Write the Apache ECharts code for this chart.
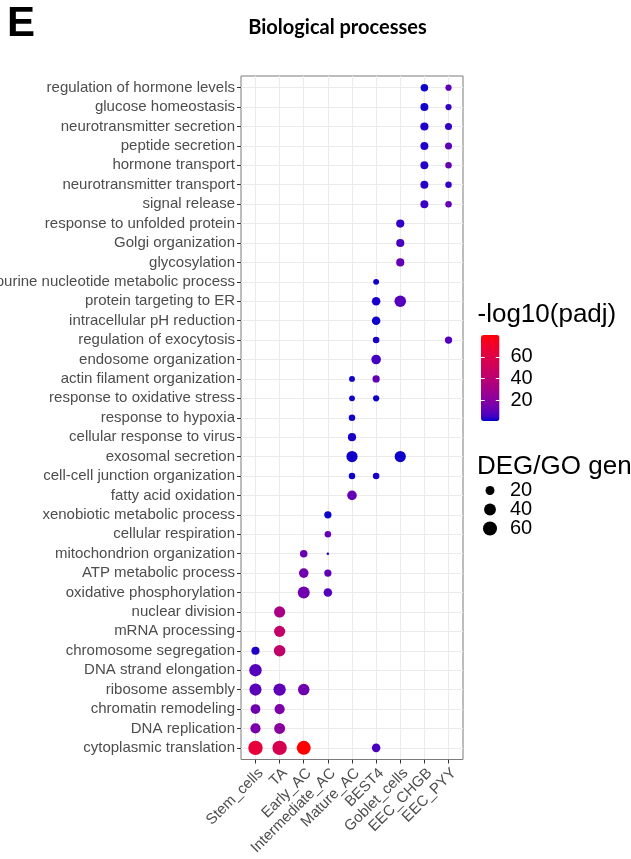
<!DOCTYPE html>
<html>
<head>
<meta charset="utf-8">
<script src="https://cdn.jsdelivr.net/npm/echarts@6/dist/echarts.min.js"></script>
<style>
  html, body { margin: 0; padding: 0; background: #fff; }
  #chart { width: 631px; height: 859px; }
</style>
</head>
<body>
<div id="chart"></div>
<script>
// Cell types along the x axis
const cellTypes = ['Stem_cells', 'TA', 'Early_AC', 'Intermediate_AC', 'Mature_AC',
                   'BEST4', 'Goblet_cells', 'EEC_CHGB', 'EEC_PYY'];

// GO terms, listed top to bottom
const terms = [
  'regulation of hormone levels', 'glucose homeostasis', 'neurotransmitter secretion',
  'peptide secretion', 'hormone transport', 'neurotransmitter transport', 'signal release',
  'response to unfolded protein', 'Golgi organization', 'glycosylation',
  'purine nucleotide metabolic process', 'protein targeting to ER', 'intracellular pH reduction',
  'regulation of exocytosis', 'endosome organization', 'actin filament organization',
  'response to oxidative stress', 'response to hypoxia', 'cellular response to virus',
  'exosomal secretion', 'cell-cell junction organization', 'fatty acid oxidation',
  'xenobiotic metabolic process', 'cellular respiration', 'mitochondrion organization',
  'ATP metabolic process', 'oxidative phosphorylation', 'nuclear division', 'mRNA processing',
  'chromosome segregation', 'DNA strand elongation', 'ribosome assembly',
  'chromatin remodeling', 'DNA replication', 'cytoplasmic translation'
];

// Enriched terms per cell type: [term, DEG/GO genes, -log10(padj)]
const Stem_cells = [
  ['chromosome segregation', 16, 3],
  ['DNA strand elongation', 45, 8],
  ['ribosome assembly', 42, 9],
  ['chromatin remodeling', 25, 13],
  ['DNA replication', 28, 16],
  ['cytoplasmic translation', 64, 65]
];
const TA = [
  ['nuclear division', 35, 33],
  ['mRNA processing', 35, 45],
  ['chromosome segregation', 38, 44],
  ['ribosome assembly', 44, 10],
  ['chromatin remodeling', 28, 17],
  ['DNA replication', 33, 21],
  ['cytoplasmic translation', 64, 55]
];
const Early_AC = [
  ['mitochondrion organization', 13, 12],
  ['ATP metabolic process', 24, 14],
  ['oxidative phosphorylation', 41, 14],
  ['ribosome assembly', 37, 13],
  ['cytoplasmic translation', 60, 80]
];
const Intermediate_AC = [
  ['xenobiotic metabolic process', 12, 2],
  ['cellular respiration', 9, 11],
  ['mitochondrion organization', 2, 2],
  ['ATP metabolic process', 12, 10],
  ['oxidative phosphorylation', 18, 8]
];
const Mature_AC = [
  ['actin filament organization', 7, 2],
  ['response to oxidative stress', 7, 2],
  ['response to hypoxia', 9, 2],
  ['cellular response to virus', 16, 2.5],
  ['exosomal secretion', 35, 2],
  ['cell-cell junction organization', 9, 2],
  ['fatty acid oxidation', 24, 11]
];
const BEST4 = [
  ['purine nucleotide metabolic process', 7, 2],
  ['protein targeting to ER', 18, 2.5],
  ['intracellular pH reduction', 18, 2],
  ['regulation of exocytosis', 9, 2.5],
  ['endosome organization', 24, 5.5],
  ['actin filament organization', 12, 10],
  ['response to oxidative stress', 8, 2],
  ['cell-cell junction organization', 9, 2.5],
  ['cytoplasmic translation', 18, 6.5]
];
const Goblet_cells = [
  ['response to unfolded protein', 16, 4],
  ['Golgi organization', 16, 6.5],
  ['glycosylation', 16, 11],
  ['protein targeting to ER', 38, 8],
  ['exosomal secretion', 35, 2]
];
const EEC_CHGB = [
  ['regulation of hormone levels', 13, 1.8],
  ['glucose homeostasis', 15, 2.2],
  ['neurotransmitter secretion', 16, 3],
  ['peptide secretion', 15, 3],
  ['hormone transport', 15, 3.4],
  ['neurotransmitter transport', 15, 3.4],
  ['signal release', 15, 4.6]
];
const EEC_PYY = [
  ['regulation of hormone levels', 8, 9.5],
  ['glucose homeostasis', 8, 4.2],
  ['neurotransmitter secretion', 11, 4],
  ['peptide secretion', 11, 9.5],
  ['hormone transport', 9, 10.5],
  ['neurotransmitter transport', 9, 4.2],
  ['signal release', 9, 11],
  ['regulation of exocytosis', 12, 8]
];

const enrichment = { Stem_cells, TA, Early_AC, Intermediate_AC, Mature_AC,
                     BEST4, Goblet_cells, EEC_CHGB, EEC_PYY };

// Legend breaks and scale limits
const colourTicks = [20, 40, 60];
const sizeTicks = [20, 40, 60];
const colourLimits = [1, 80];
const countLimits = [2, 70];
const lowColour = '#0000CD';
const highColour = '#FF0000';

// Point area grows with the gene count (diameter ~ sqrt of the rescaled count)
const diameterRange = [2.5, 15];
function dotSize(n) {
  const t = Math.max(0, (n - countLimits[0]) / (countLimits[1] - countLimits[0]));
  return diameterRange[0] + (diameterRange[1] - diameterRange[0]) * Math.sqrt(t);
}

// Gradient interpolated in CIE Lab space
function toLinear(c) { c /= 255; return c <= 0.04045 ? c / 12.92 : Math.pow((c + 0.055) / 1.055, 2.4); }
function toSrgb(c) { c = Math.min(1, Math.max(0, c)); return 255 * (c <= 0.0031308 ? 12.92 * c : 1.055 * Math.pow(c, 1 / 2.4) - 0.055); }
function hexToRgb(h) { return [1, 3, 5].map(i => parseInt(h.slice(i, i + 2), 16)); }
function rgbToLab(rgb) {
  const [r, g, b] = rgb.map(toLinear);
  const x = (0.4124 * r + 0.3576 * g + 0.1805 * b) / 0.95047;
  const y = (0.2126 * r + 0.7152 * g + 0.0722 * b);
  const z = (0.0193 * r + 0.1192 * g + 0.9505 * b) / 1.08883;
  const f = t => t > 0.008856 ? Math.cbrt(t) : 7.787 * t + 16 / 116;
  const fx = f(x), fy = f(y), fz = f(z);
  return [116 * fy - 16, 500 * (fx - fy), 200 * (fy - fz)];
}
function labToRgb(lab) {
  const [L, a, bb] = lab;
  const fy = (L + 16) / 116, fx = fy + a / 500, fz = fy - bb / 200;
  const inv = t => t > 0.206893 ? t * t * t : (t - 16 / 116) / 7.787;
  const x = inv(fx) * 0.95047, y = inv(fy), z = inv(fz) * 1.08883;
  const r = 3.2406 * x - 1.5372 * y - 0.4986 * z;
  const g = -0.9689 * x + 1.8758 * y + 0.0415 * z;
  const b = 0.0557 * x - 0.2040 * y + 1.0570 * z;
  return 'rgb(' + [r, g, b].map(c => Math.round(toSrgb(c))).join(',') + ')';
}
function labGradient(c1, c2, n) {
  const a = rgbToLab(hexToRgb(c1)), b = rgbToLab(hexToRgb(c2));
  const out = [];
  for (let i = 0; i < n; i++) {
    const t = i / (n - 1);
    out.push(labToRgb(a.map((v, k) => v + (b[k] - v) * t)));
  }
  return out;
}
const gradientStops = labGradient(lowColour, highColour, 21);

// Points: [column, row (0 = bottom), count, -log10(padj)]
const points = [];
cellTypes.forEach((ct, ci) => {
  enrichment[ct].forEach(([term, count, logp]) => {
    points.push([ci, terms.length - 1 - terms.indexOf(term), count, logp]);
  });
});

const axisFont = 'Liberation Sans';
const colIdx = cellTypes.map((_, i) => i);
const rowIdx = terms.map((_, i) => i);

const chart = echarts.init(document.getElementById('chart'), null, { renderer: 'canvas' });
chart.setOption({
  animation: false,
  backgroundColor: '#ffffff',
  grid: [
    { left: 241, top: 76, width: 222, height: 683.5, show: true, borderColor: '#7a7a7a', borderWidth: 1,
      containLabel: false, outerBoundsMode: 'none' },
    { left: 481, top: 335, width: 18.5, height: 86, containLabel: false, outerBoundsMode: 'none' },
    { left: 481, top: 481, width: 18, height: 57, containLabel: false, outerBoundsMode: 'none' }
  ],
  xAxis: [
    {
      gridIndex: 0, type: 'value', min: -0.6, max: cellTypes.length - 1 + 0.6, position: 'bottom',
      axisLine: { show: false, onZero: false },
      axisTick: { show: true, customValues: colIdx, length: 4, lineStyle: { color: '#333333', width: 1 } },
      axisLabel: { customValues: colIdx, formatter: v => cellTypes[v], rotate: 45, fontSize: 15,
                   fontFamily: axisFont, color: '#4D4D4D', margin: 6, verticalAlign: 'top' },
      splitLine: { show: true, lineStyle: { color: '#EBEBEB', width: 1.1 } }
    },
    { gridIndex: 1, type: 'value', min: 0, max: 1, show: false },
    { gridIndex: 2, type: 'category', data: ['n'], show: false }
  ],
  yAxis: [
    {
      gridIndex: 0, type: 'value', min: -0.6, max: terms.length - 1 + 0.6, position: 'left',
      axisLine: { show: false, onZero: false },
      axisTick: { show: true, customValues: rowIdx, length: 4, lineStyle: { color: '#333333', width: 1 } },
      axisLabel: { customValues: rowIdx, formatter: v => terms[terms.length - 1 - v], fontSize: 15,
                   fontFamily: axisFont, color: '#4D4D4D', margin: 6 },
      splitLine: { show: true, lineStyle: { color: '#EBEBEB', width: 1.1 } }
    },
    {
      gridIndex: 1, type: 'value', min: colourLimits[0], max: colourLimits[1], position: 'right', z: 10,
      axisLine: { show: false, onZero: false }, splitLine: { show: false },
      axisTick: { show: true, inside: true, customValues: colourTicks, length: 3.7,
                  lineStyle: { color: '#ffffff', width: 1 } },
      axisLabel: { customValues: colourTicks, fontSize: 20, fontFamily: axisFont, color: '#000000', margin: 11 }
    },
    {
      gridIndex: 1, type: 'value', min: colourLimits[0], max: colourLimits[1], position: 'left', z: 10,
      axisLine: { show: false, onZero: false }, splitLine: { show: false }, axisLabel: { show: false },
      axisTick: { show: true, inside: true, customValues: colourTicks, length: 3.7,
                  lineStyle: { color: '#ffffff', width: 1 } }
    },
    {
      gridIndex: 2, type: 'category', data: sizeTicks.slice().reverse().map(String), position: 'right',
      axisLine: { show: false, onZero: false }, axisTick: { show: false }, splitLine: { show: false },
      axisLabel: { interval: 0, fontSize: 20, fontFamily: axisFont, color: '#000000', margin: 11 }
    }
  ],
  visualMap: [{
    type: 'continuous', seriesIndex: 0, dimension: 3,
    min: colourLimits[0], max: colourLimits[1],
    inRange: { color: gradientStops },
    calculable: false, hoverLink: false, realtime: false,
    left: 481, top: 335, itemWidth: 18.5, itemHeight: 86, padding: 0,
    text: null, textGap: 0, orient: 'vertical', z: 4
  }],
  series: [
    {
      type: 'scatter', xAxisIndex: 0, yAxisIndex: 0,
      data: points,
      symbol: 'circle',
      symbolSize: d => dotSize(d[2]),
      itemStyle: { opacity: 1 },
      emphasis: { disabled: true },
      z: 3
    },
    {
      type: 'scatter', xAxisIndex: 2, yAxisIndex: 3,
      data: sizeTicks.map(v => ['n', String(v), v]),
      symbol: 'circle',
      symbolSize: d => dotSize(d[2]),
      itemStyle: { color: '#000000', opacity: 1 },
      emphasis: { disabled: true }
    }
  ],
  graphic: [
    { type: 'text', x: 7, y: 24,
      style: { text: 'E', font: 'bold 42px "Liberation Sans"', fill: '#000', verticalAlign: 'middle' } },
    { type: 'text', x: 337.5, y: 28,
      style: { text: 'Biological processes', font: 'bold 20px Lato', fill: '#000',
               align: 'center', verticalAlign: 'middle' } },
    { type: 'text', x: 477.5, y: 315,
      style: { text: '-log10(padj)', font: '26px "Liberation Sans"', fill: '#000', verticalAlign: 'middle' } },
    { type: 'text', x: 477, y: 467,
      style: { text: 'DEG/GO genes', font: '26px "Liberation Sans"', fill: '#000', verticalAlign: 'middle' } }
  ]
});
</script>
</body>
</html>
